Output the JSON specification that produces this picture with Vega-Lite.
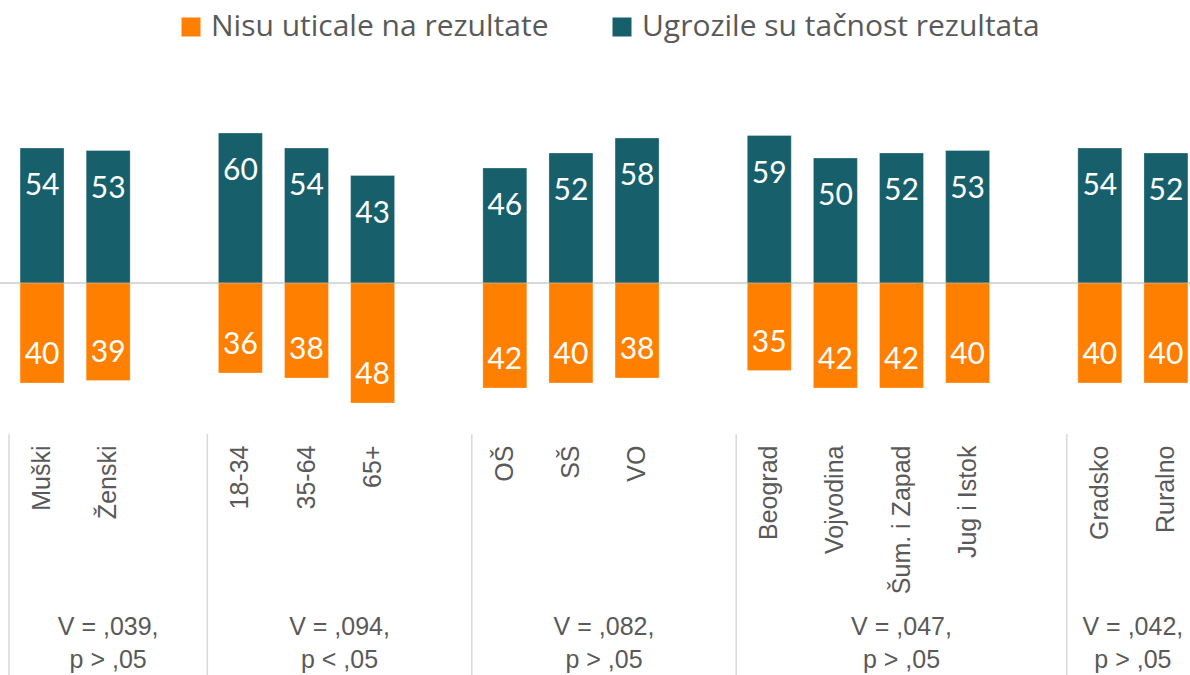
{
  "$schema": "https://vega.github.io/schema/vega-lite/v6.json",
  "width": 1190,
  "height": 675,
  "padding": 0,
  "autosize": {"type": "none"},
  "background": "white",
  "config": {"view": {"stroke": null}, "font": "Lato"},
  "data": {
    "values": [
      {"cat": "Muški", "series": "Ugrozile su tačnost rezultata", "value": 54},
      {"cat": "Muški", "series": "Nisu uticale na rezultate", "value": 40},
      {"cat": "Ženski", "series": "Ugrozile su tačnost rezultata", "value": 53},
      {"cat": "Ženski", "series": "Nisu uticale na rezultate", "value": 39},
      {"cat": "18-34", "series": "Ugrozile su tačnost rezultata", "value": 60},
      {"cat": "18-34", "series": "Nisu uticale na rezultate", "value": 36},
      {"cat": "35-64", "series": "Ugrozile su tačnost rezultata", "value": 54},
      {"cat": "35-64", "series": "Nisu uticale na rezultate", "value": 38},
      {"cat": "65+", "series": "Ugrozile su tačnost rezultata", "value": 43},
      {"cat": "65+", "series": "Nisu uticale na rezultate", "value": 48},
      {"cat": "OŠ", "series": "Ugrozile su tačnost rezultata", "value": 46},
      {"cat": "OŠ", "series": "Nisu uticale na rezultate", "value": 42},
      {"cat": "SŠ", "series": "Ugrozile su tačnost rezultata", "value": 52},
      {"cat": "SŠ", "series": "Nisu uticale na rezultate", "value": 40},
      {"cat": "VO", "series": "Ugrozile su tačnost rezultata", "value": 58},
      {"cat": "VO", "series": "Nisu uticale na rezultate", "value": 38},
      {"cat": "Beograd", "series": "Ugrozile su tačnost rezultata", "value": 59},
      {"cat": "Beograd", "series": "Nisu uticale na rezultate", "value": 35},
      {"cat": "Vojvodina", "series": "Ugrozile su tačnost rezultata", "value": 50},
      {"cat": "Vojvodina", "series": "Nisu uticale na rezultate", "value": 42},
      {"cat": "Šum. i Zapad", "series": "Ugrozile su tačnost rezultata", "value": 52},
      {"cat": "Šum. i Zapad", "series": "Nisu uticale na rezultate", "value": 42},
      {"cat": "Jug i Istok", "series": "Ugrozile su tačnost rezultata", "value": 53},
      {"cat": "Jug i Istok", "series": "Nisu uticale na rezultate", "value": 40},
      {"cat": "Gradsko", "series": "Ugrozile su tačnost rezultata", "value": 54},
      {"cat": "Gradsko", "series": "Nisu uticale na rezultate", "value": 40},
      {"cat": "Ruralno", "series": "Ugrozile su tačnost rezultata", "value": 52},
      {"cat": "Ruralno", "series": "Nisu uticale na rezultate", "value": 40}
    ]
  },
  "layer": [
    {
      "layer": [
        {
          "data": {"values": [{}]},
          "mark": {"type": "rule", "color": "#d9d9d9", "strokeWidth": 2},
          "encoding": {
            "y": {"datum": 0, "type": "quantitative", "scale": {"domain": [-156.8, 113.2], "nice": false, "zero": false}, "axis": null}
          }
        },
        {
          "data": {"values": [{"cat": "Muški"}, {"cat": "18-34"}, {"cat": "OŠ"}, {"cat": "Beograd"}, {"cat": "Gradsko"}]},
          "mark": {"type": "rule", "color": "#d9d9d9", "strokeWidth": 1.5},
          "encoding": {
            "x": {"field": "cat", "type": "nominal", "bandPosition": 0},
            "y": {"datum": -60.4, "type": "quantitative", "scale": {"domain": [-156.8, 113.2], "nice": false, "zero": false}, "axis": null},
            "y2": {"datum": -160}
          }
        },
        {
          "data": {"values": [
            {"cat": "Ženski", "stat": ["V = ,039,", "p > ,05"]},
            {"cat": "Šum. i Zapad", "stat": ["V = ,047,", "p > ,05"]}
          ]},
          "mark": {"type": "text", "font": "Liberation Sans", "fontSize": 25, "color": "#595959", "align": "center", "baseline": "middle", "lineHeight": 33},
          "encoding": {
            "x": {"field": "cat", "type": "nominal", "bandPosition": 0.5},
            "y": {"datum": -137.6, "type": "quantitative", "scale": {"domain": [-156.8, 113.2], "nice": false, "zero": false}, "axis": null},
            "text": {"field": "stat"}
          }
        },
        {
          "data": {"values": [
            {"cat": "65+", "stat": ["V = ,094,", "p < ,05"]},
            {"cat": "VO", "stat": ["V = ,082,", "p > ,05"]},
            {"cat": "Ruralno", "stat": ["V = ,042,", "p > ,05"]}
          ]},
          "mark": {"type": "text", "font": "Liberation Sans", "fontSize": 25, "color": "#595959", "align": "center", "baseline": "middle", "lineHeight": 33},
          "encoding": {
            "x": {"field": "cat", "type": "nominal", "bandPosition": 0},
            "y": {"datum": -137.6, "type": "quantitative", "scale": {"domain": [-156.8, 113.2], "nice": false, "zero": false}, "axis": null},
            "text": {"field": "stat"}
          }
        },
        {
          "transform": [{"filter": "datum.series == 'Ugrozile su tačnost rezultata'"}],
          "mark": {"type": "bar", "width": {"band": 0.665}, "stroke": "#ffffff", "strokeOpacity": 0.35, "strokeWidth": 0.8},
          "encoding": {
            "x": {
              "field": "cat",
              "type": "nominal",
              "sort": null,
              "scale": {
                "domain": ["Muški", "Ženski", " ", "18-34", "35-64", "65+", "  ", "OŠ", "SŠ", "VO", "   ", "Beograd", "Vojvodina", "Šum. i Zapad", "Jug i Istok", "    ", "Gradsko", "Ruralno"],
                "range": [9, 1199],
                "paddingInner": 0,
                "paddingOuter": 0
              },
              "axis": {
                "title": null,
                "orient": "bottom",
                "offset": -241,
                "labelAngle": -90,
                "labelAlign": "right",
                "labelBaseline": "middle",
                "labelPadding": 11,
                "labelFont": "Liberation Sans",
                "labelFontSize": 25,
                "labelColor": "#595959",
                "ticks": false,
                "domain": false,
                "grid": false,
                "labelOverlap": false,
                "labelFlush": false,
                "labelBound": false,
                "labelLimit": 0
              }
            },
            "y": {"field": "value", "type": "quantitative", "scale": {"domain": [-156.8, 113.2], "nice": false, "zero": false}, "axis": null},
            "y2": {"datum": 0},
            "color": {
              "field": "series",
              "type": "nominal",
              "scale": {"domain": ["Nisu uticale na rezultate", "Ugrozile su tačnost rezultata"], "range": ["#ff7f00", "#175f6b"]},
              "legend": {
                "orient": "none",
                "legendX": 176,
                "legendY": 12,
                "direction": "horizontal",
                "title": null,
                "symbolType": "square",
                "symbolSize": 361,
                "symbolStrokeWidth": 0,
                "symbolOpacity": 1,
                "labelFont": "Open Sans",
                "labelFontSize": 30,
                "labelColor": "#595959",
                "labelOffset": 5,
                "columnPadding": 58,
                "padding": 0,
                "labelLimit": 0
              }
            }
          }
        },
        {
          "transform": [{"filter": "datum.series == 'Ugrozile su tačnost rezultata'"}],
          "mark": {"type": "text", "font": "Lato", "fontSize": 30, "color": "white", "align": "center", "baseline": "middle", "dy": 38},
          "encoding": {
            "x": {"field": "cat", "type": "nominal"},
            "y": {"field": "value", "type": "quantitative", "scale": {"domain": [-156.8, 113.2], "nice": false, "zero": false}, "axis": null},
            "text": {"field": "value", "type": "quantitative"}
          }
        }
      ]
    },
    {
      "layer": [
        {
          "transform": [{"filter": "datum.series == 'Nisu uticale na rezultate'"}],
          "mark": {"type": "bar", "width": {"band": 0.665}, "stroke": "#ffffff", "strokeOpacity": 0.35, "strokeWidth": 0.8},
          "encoding": {
            "x": {"field": "cat", "type": "nominal"},
            "y": {"field": "value", "type": "quantitative", "scale": {"domain": [-113.2, 156.8], "reverse": true, "nice": false, "zero": false}, "axis": null},
            "y2": {"datum": 0},
            "color": {"field": "series", "type": "nominal"}
          }
        },
        {
          "transform": [{"filter": "datum.series == 'Nisu uticale na rezultate'"}],
          "mark": {"type": "text", "font": "Lato", "fontSize": 30, "color": "white", "align": "center", "baseline": "middle", "dy": -28},
          "encoding": {
            "x": {"field": "cat", "type": "nominal"},
            "y": {"field": "value", "type": "quantitative", "scale": {"domain": [-113.2, 156.8], "reverse": true, "nice": false, "zero": false}, "axis": null},
            "text": {"field": "value", "type": "quantitative"}
          }
        }
      ]
    }
  ],
  "resolve": {"scale": {"y": "independent"}}
}
